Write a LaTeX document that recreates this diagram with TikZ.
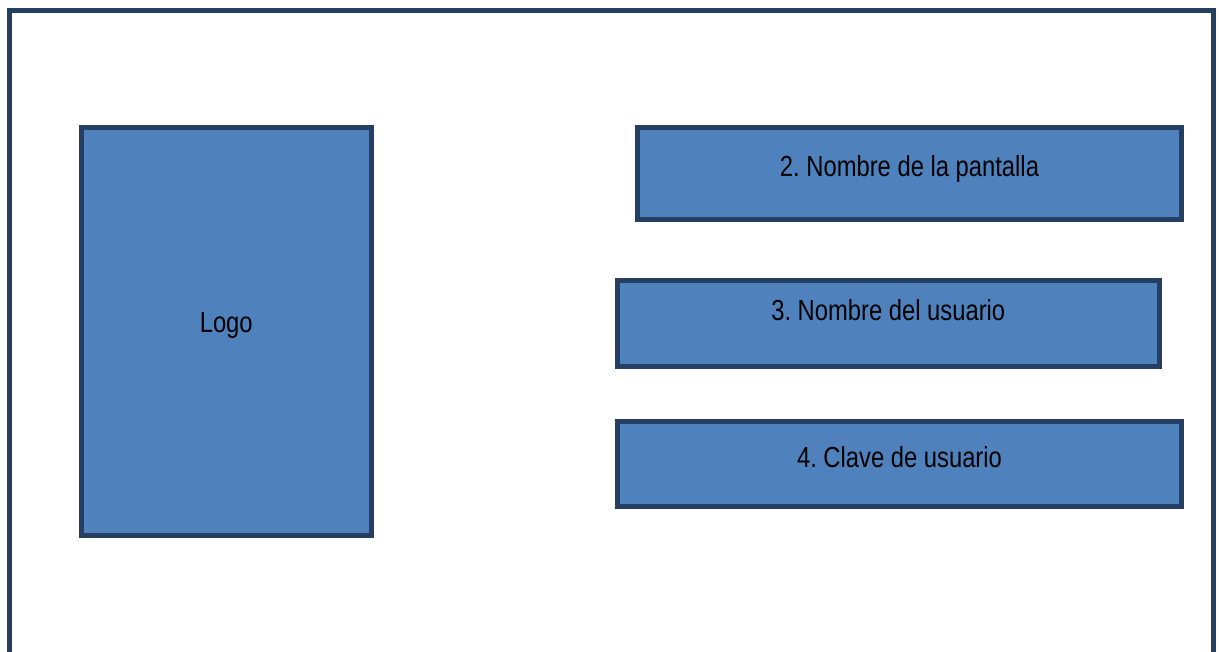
\documentclass[tikz,border=0pt]{standalone}
\usepackage{fontspec}
\setmainfont[FakeStretch=0.82]{Liberation Sans}
\usetikzlibrary{positioning}
\frenchspacing

\definecolor{borde}{RGB}{36,63,96}
\definecolor{relleno}{RGB}{79,129,189}

\begin{document}
\begin{tikzpicture}[
    x=1pt, y=-1pt,
    pantalla/.style={rectangle, draw=borde, line width=5pt, inner sep=0pt, outer sep=0pt},
    caja/.style={rectangle, draw=borde, fill=relleno, line width=5pt, inner sep=0pt, outer sep=0pt},
    texto/.style={anchor=base, inner sep=0pt, font=\fontsize{29}{34}\selectfont}
]
\useasboundingbox (0,0) rectangle (1221,652);

% Screen frame
\node[pantalla, minimum width=1204pt, minimum height=700pt, anchor=north west] (marco) at (9.5,10.5) {};

% Logo
\node[caja, minimum width=289.5pt, minimum height=408pt] (logo) at (226.25,331.5) {};
\node[texto] (logoT) at ([yshift=-1.5pt]logo.center) {Logo};

% Fields
\node[caja, minimum width=544pt, minimum height=92pt] (nombre) at (909.5,173.5) {};
\node[texto] (nombreT) at ([yshift=-3.5pt]nombre.center) {2. Nombre de la pantalla};

\node[caja, minimum width=541.5pt, minimum height=86pt] (usuario) at (888.25,323.5) {};
\node[texto] (usuarioT) at ([yshift=3.5pt]usuario.center) {3. Nombre del usuario};

\node[caja, minimum width=564pt, minimum height=85pt] (clave) at (899.5,464) {};
\node[texto] (claveT) at ([yshift=-3.3pt]clave.center) {4. Clave de usuario};

\end{tikzpicture}
\end{document}
